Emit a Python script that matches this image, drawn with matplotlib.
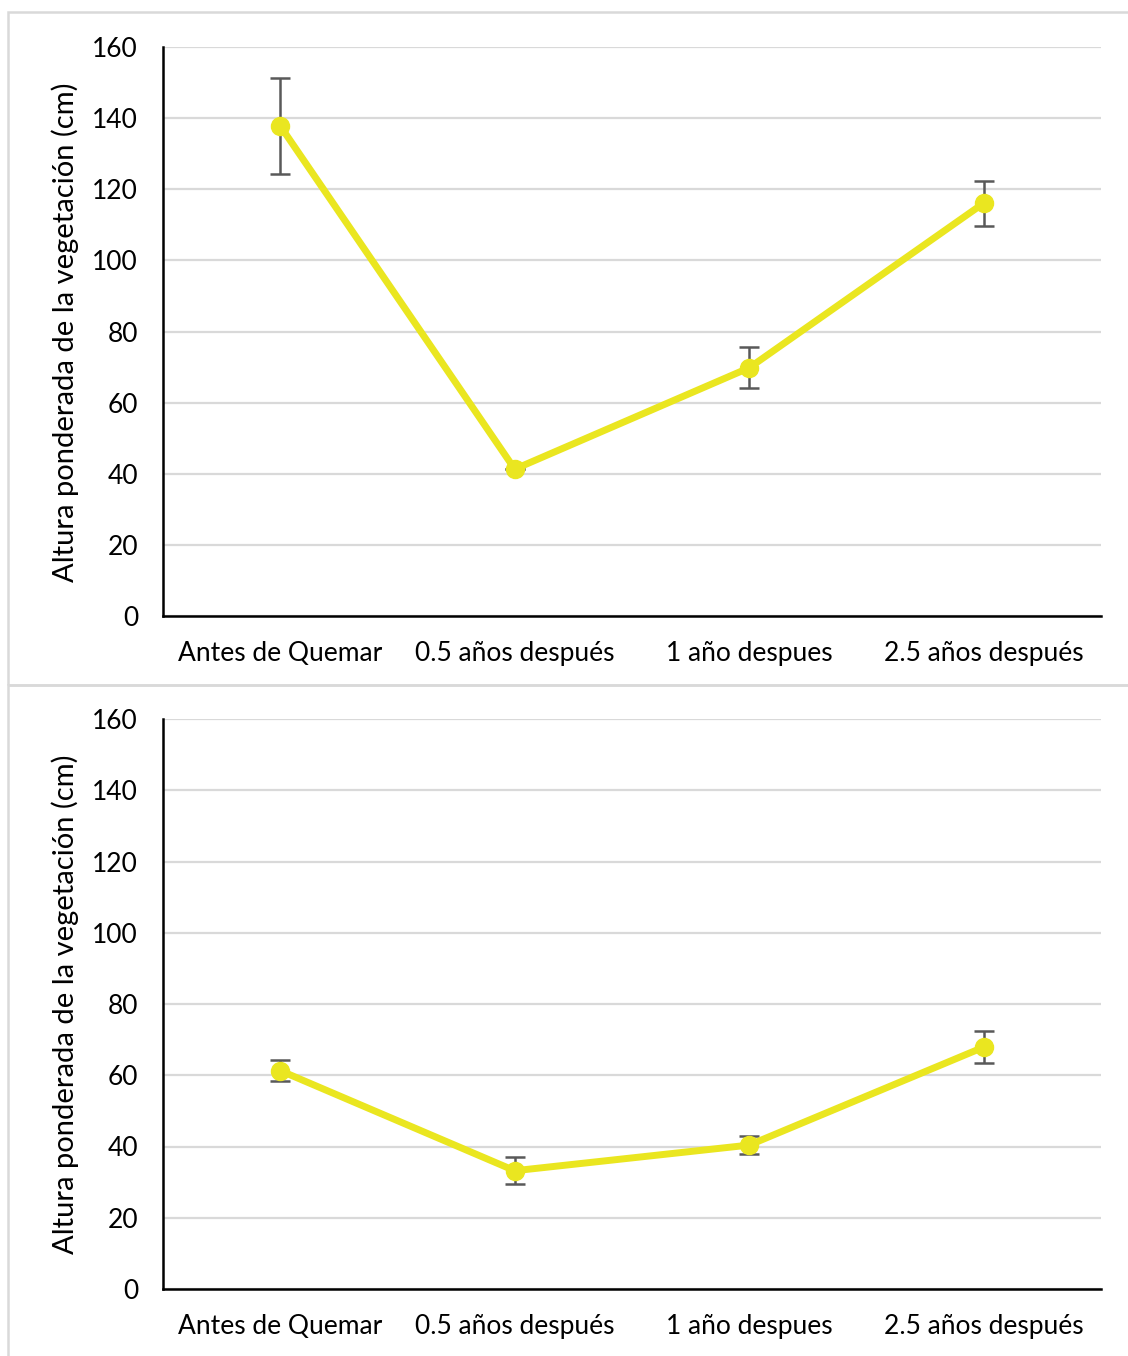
import matplotlib
matplotlib.use("Agg")
import matplotlib.pyplot as plt
from matplotlib.patches import Rectangle

plt.rcParams['font.family'] = ['Lato', 'DejaVu Sans']

categories = ["Antes de Quemar", "0.5 años después", "1 año despues", "2.5 años después"]
top_values = [137.8, 41.3, 69.8, 116.1]
top_errors = [13.6, 0.0, 5.8, 6.3]
bottom_values = [61.3, 33.2, 40.4, 67.9]
bottom_errors = [3.0, 3.8, 2.6, 4.5]
y_ticks = [0, 20, 40, 60, 80, 100, 120, 140, 160]
y_label = "Altura ponderada de la vegetación (cm)"

W, H = 1128, 1356
fig = plt.figure(figsize=(W / 100, H / 100), dpi=100)

line_color = "#EAE620"
err_color = "#595959"
grid_color = "#D9D9D9"

# panel frames
for (x0, y0, x1, y1) in [(8, 12, 1140, 685), (8, 685, 1140, 1370)]:
    fig.patches.append(Rectangle((x0 / W, 1 - y1 / H), (x1 - x0) / W, (y1 - y0) / H,
                                 transform=fig.transFigure, fill=False,
                                 edgecolor=grid_color, linewidth=1.8))


def panel(ax_rect, values, errors):
    ax = fig.add_axes(ax_rect)
    x = list(range(len(categories)))
    ax.errorbar(x, values, yerr=errors, fmt="none", ecolor=err_color,
                elinewidth=1.8, capsize=7, capthick=1.8, zorder=2)
    ax.plot(x, values, color=line_color, linewidth=5, marker="o",
            markersize=13, markerfacecolor=line_color, markeredgecolor=line_color,
            zorder=3, solid_capstyle="round")
    ax.set_xlim(-0.5, len(categories) - 0.5)
    ax.set_ylim(0, 160)
    ax.set_yticks(y_ticks)
    ax.set_xticks(x)
    ax.set_xticklabels(categories)
    ax.tick_params(axis="both", length=0, labelsize=19)
    ax.tick_params(axis="y", pad=18)
    ax.tick_params(axis="x", pad=18)
    ax.yaxis.grid(True, color=grid_color, linewidth=1.6)
    ax.set_axisbelow(True)
    for s in ("top", "right"):
        ax.spines[s].set_visible(False)
    for s in ("left", "bottom"):
        ax.spines[s].set_color("black")
        ax.spines[s].set_linewidth(1.8)
    ax.set_ylabel(y_label, fontsize=21)
    return ax


ax1 = panel([163 / W, 1 - 616 / H, 938 / W, 569 / H], top_values, top_errors)
ax2 = panel([163 / W, 1 - 1289 / H, 938 / W, 570 / H], bottom_values, bottom_errors)
for ax, yc in ((ax1, 332), (ax2, 1004)):
    ax.yaxis.set_label_coords(79 / W, 1 - yc / H, transform=fig.transFigure)

fig.savefig("out.png", dpi=100, facecolor="white")
